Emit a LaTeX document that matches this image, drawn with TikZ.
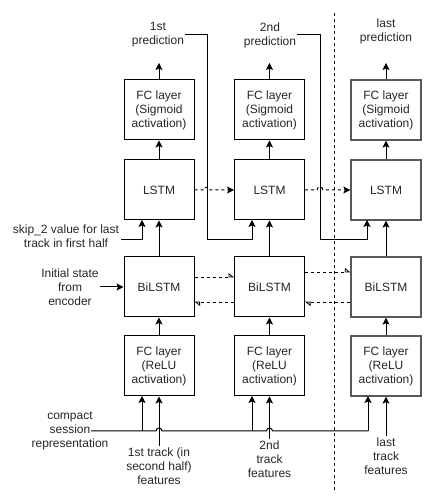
\documentclass[tikz,border=0pt]{standalone}
\usepackage{fontspec}
\setmainfont{Liberation Sans}
\usetikzlibrary{arrows.meta}
\tikzset{
  x=1pt, y=1pt,
  every node/.style={font=\fontsize{12}{14}\selectfont, text=black!85},
  blk/.style={draw, line width=1pt, minimum width=70pt, minimum height=60pt, align=center, inner sep=0pt},
  blk3/.style={blk, draw=black!65, line width=1.3pt},
  lbl/.style={align=center, inner sep=1pt},
  arr/.style={line width=1pt, -{Stealth[length=7pt,width=7pt,inset=1.5pt]}},
  plain/.style={line width=1pt},
  darr/.style={line width=1pt, dash pattern=on 3pt off 3pt, -{Stealth[length=7pt,width=7pt,inset=1.5pt]}},
  harr/.style={line width=0.8pt, dash pattern=on 3pt off 3pt, -{Triangle[open,harpoon,length=5pt,width=8pt]}}
}
\begin{document}
\begin{tikzpicture}
\useasboundingbox (0,0) rectangle (431,502);
% boxes
\node[blk] (s1) at (159,392) {FC layer\\(Sigmoid\\activation)};
\node[blk] (s2) at (269.5,392) {FC layer\\(Sigmoid\\activation)};
\node[blk3] (s3) at (386,392) {FC layer\\(Sigmoid\\activation)};
\node[blk] (l1) at (159,312) {LSTM};
\node[blk] (l2) at (269.5,312) {LSTM};
\node[blk3] (l3) at (386,312) {LSTM};
\node[blk] (b1) at (159,215) {BiLSTM};
\node[blk] (b2) at (269.5,215) {BiLSTM};
\node[blk3] (b3) at (386,215) {BiLSTM};
\node[blk] (r1) at (159,136) {FC layer\\(ReLU\\activation)};
\node[blk] (r2) at (269.5,136) {FC layer\\(ReLU\\activation)};
\node[blk3] (r3) at (386,136) {FC layer\\(ReLU\\activation)};
% labels
\node[lbl] (p1) at (158,467) {1st\\prediction};
\node[lbl] (p2) at (270,467) {2nd\\prediction};
\node[lbl] (p3) at (386,470.5) {last\\prediction};
\node[lbl] (sk) at (66,266) {skip\_2 value for last\\track in first half};
\node[lbl] (ini) at (70,215) {Initial state\\from\\encoder};
\node[lbl] (cs) at (70,71) {compact\\session\\representation};
\node[lbl] (t1) at (159,36) {1st track (in\\second half)\\features};
\node[lbl] (t2) at (269.5,43) {2nd\\track\\features};
\node[lbl] (t3) at (386,46) {last\\track\\features};
% coordinates
\coordinate (pt1) at (159,439);
\coordinate (pt2) at (269.5,439);
\coordinate (pt3) at (386,439);
\coordinate (ske) at (121,262);
\coordinate (inie) at (100,215);
\coordinate (cse) at (91,71);
\coordinate (dtop) at (334,489);
\coordinate (dbot) at (334,12);
% vertical separator
\draw[line width=0.8pt, dash pattern=on 3pt off 3pt] (dtop) -- (dbot);
% outputs
\draw[arr] (s1.north) -- (pt1);
\draw[arr] (s2.north) -- (pt2);
\draw[arr] (s3.north) -- (pt3);
\draw[arr] (l1.north) -- (s1.south);
\draw[arr] (l2.north) -- (s2.south);
\draw[arr] (l3.north) -- (s3.south);
\draw[arr] (b1.north) -- (l1.south);
\draw[arr] (b2.north) -- (l2.south);
\draw[arr] (b3.north) -- (l3.south);
\draw[arr] (r1.north) -- (b1.south);
\draw[arr] (r2.north) -- (b2.south);
\draw[arr] (r3.north) -- (b3.south);
% skip connections
\draw[arr] (p1.east) -- (207,467) -- (207,262) -- (252,262) -- (252,282);
\draw[arr] (p2.east) -- (320,467) -- (320,262) -- (367,262) -- (367,282);
\draw[arr] (ske) -- (142,262) -- (142,282);
% LSTM recurrences with hops
\draw[darr] (l1.east) -- (204,312) arc[start angle=180,end angle=0,radius=3] -- (l2.west);
\draw[darr] (l2.east) -- (317,312) arc[start angle=180,end angle=0,radius=3] -- (l3.west);
% BiLSTM
\draw[arr] (inie) -- (b1.west);
\draw[harr] (b1.east |- 0,225) -- (b2.west |- 0,225);
\draw[harr] (b2.west |- 0,200) -- (b1.east |- 0,200);
\draw[harr] (b2.east |- 0,230) -- (b3.west |- 0,230);
\draw[harr] (b3.west |- 0,200) -- (b2.east |- 0,200);
% compact session representation
\draw[plain] (cse) -- (156,71) arc[start angle=180,end angle=0,radius=3] -- (266.5,71) arc[start angle=180,end angle=0,radius=3] -- (368,71);
\draw[arr] (142,71) -- (142,106);
\draw[arr] (252,71) -- (252,106);
\draw[arr] (368,71) -- (368,106);
% track features
\draw[arr] (t1.north) -- (r1.south);
\draw[arr] (t2.north) -- (r2.south);
\draw[arr] (t3.north) -- (r3.south);
\end{tikzpicture}
\end{document}
